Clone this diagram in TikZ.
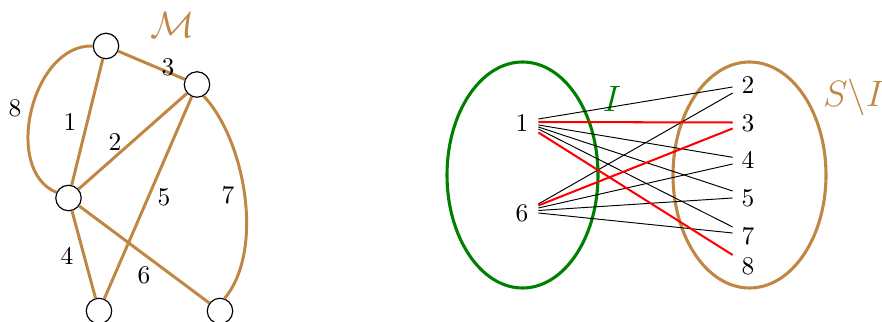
\documentclass[tikz,border=0pt]{standalone}
\definecolor{ochre}{RGB}{192,135,68}
\definecolor{dkgreen}{RGB}{0,128,0}
\begin{document}
\begin{tikzpicture}[x=0.42pt,y=-0.42pt,
  vert/.style={circle,draw=black,fill=white,line width=0.5pt,minimum size=10.7pt,inner sep=0pt},
  medge/.style={ochre,line width=1.25pt},
  elab/.style={inner sep=0pt,scale=1.07},
  setlab/.style={scale=1.07},
  thinln/.style={black,line width=0.4pt},
  redln/.style={red,line width=0.85pt},
  setellipse/.style={line width=1.3pt}]
\useasboundingbox (0,0) rectangle (882,322);
% left graph
\node[vert] (A) at (106,46) {};
\node[vert] (B) at (197,84.5) {};
\node[vert] (C) at (68.5,198) {};
\node[vert] (D) at (99,311) {};
\node[vert] (E) at (220,311) {};
\draw[medge] (A) -- (C);
\draw[medge] (C) -- (B);
\draw[medge] (A) -- (B);
\draw[medge] (C) -- (D);
\draw[medge] (B) -- (D);
\draw[medge] (C) -- (E);
\draw[medge] (B.-60) .. controls (245,140) and (265,250) .. (E.70);
\draw[medge] (A.west) .. controls (32,44) and (2,170) .. (C.155);
\node[elab] (l1) at (70,122) {1};
\node[elab] (l2) at (115,142) {2};
\node[elab] (l3) at (168,67) {3};
\node[elab] (l4) at (67,256) {4};
\node[elab] (l5) at (164,197) {5};
\node[elab] (l6) at (144,275) {6};
\node[elab] (l7) at (228,195) {7};
\node[elab] (l8) at (15,108) {8};
\node[elab,text=ochre] (M) at (173,25) {\Large$\mathcal{M}$};
% right diagram
\draw[setellipse,dkgreen] (522.5,175) ellipse [x radius=75.5, y radius=113];
\draw[setellipse,ochre] (749.5,175) ellipse [x radius=76.5, y radius=113];
\node[setlab] (n1) at (522,123.5) {1};
\node[setlab] (n6) at (522,213) {6};
\node[setlab] (r2) at (748,85) {2};
\node[setlab] (r3) at (748,123.5) {3};
\node[setlab] (r4) at (748,160.3) {4};
\node[setlab] (r5) at (748,198) {5};
\node[setlab] (r7) at (748,236) {7};
\node[setlab] (r8) at (748,266) {8};
\node[elab,text=dkgreen] (Ilab) at (612,99) {\Large$I$};
\node[elab,text=ochre] (SI) at (854,97) {\Large$S\backslash I$};
\draw[thinln] ([shift={(1,-4.5)}]n1.east) -- ([shift={(0,2)}]r2.west);
\draw[thinln] ([shift={(1,1.5)}]n1.east) -- ([shift={(0,-3)}]r4.west);
\draw[thinln] ([shift={(1,3.5)}]n1.east) -- ([shift={(0,-7)}]r5.west);
\draw[thinln] ([shift={(1,5.5)}]n1.east) -- ([shift={(0,-9)}]r7.west);
\draw[thinln] ([shift={(1,-9)}]n6.east) -- ([shift={(0,8)}]r2.west);
\draw[thinln] ([shift={(1,-5)}]n6.east) -- ([shift={(0,3.7)}]r4.west);
\draw[thinln] ([shift={(1,-2.5)}]n6.east) -- ([shift={(0,0)}]r5.west);
\draw[thinln] ([shift={(1,0)}]n6.east) -- ([shift={(0,-3)}]r7.west);
\draw[redln] ([shift={(1,-1.5)}]n1.east) -- ([shift={(0,-1)}]r3.west);
\draw[redln] ([shift={(1,9)}]n1.east) -- ([shift={(0,-11)}]r8.west);
\draw[redln] ([shift={(1,-7.5)}]n6.east) -- ([shift={(0,5)}]r3.west);
\end{tikzpicture}
\end{document}
